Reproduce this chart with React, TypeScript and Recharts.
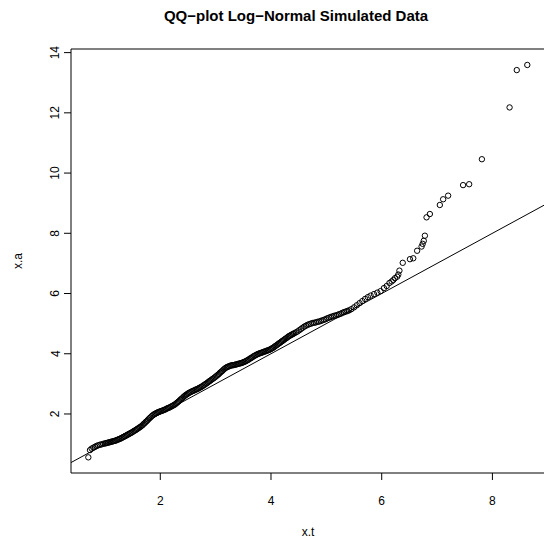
import React from "react";
import {
  ScatterChart,
  Scatter,
  XAxis,
  YAxis,
  ReferenceLine,
  ReferenceArea,
} from "recharts";

// Theoretical log-normal quantiles (x.t)
const xt = [
  0.70, 0.73, 0.76, 0.79, 0.82, 0.85, 0.88, 0.91, 0.94, 0.97,
  1.00, 1.02, 1.04, 1.06, 1.08, 1.10, 1.12, 1.14, 1.16, 1.18,
  1.20, 1.22, 1.24, 1.26, 1.28, 1.30, 1.32, 1.34, 1.36, 1.38,
  1.40, 1.42, 1.44, 1.46, 1.48, 1.50, 1.52, 1.54, 1.56, 1.58,
  1.60, 1.62, 1.64, 1.66, 1.68, 1.70, 1.72, 1.74, 1.76, 1.78,
  1.80, 1.82, 1.84, 1.86, 1.88, 1.90, 1.92, 1.94, 1.96, 1.98,
  2.00, 2.02, 2.04, 2.06, 2.08, 2.10, 2.12, 2.14, 2.16, 2.18,
  2.20, 2.22, 2.24, 2.26, 2.28, 2.30, 2.32, 2.34, 2.36, 2.38,
  2.40, 2.42, 2.44, 2.46, 2.48, 2.50, 2.52, 2.54, 2.56, 2.58,
  2.60, 2.62, 2.64, 2.66, 2.68, 2.70, 2.72, 2.74, 2.76, 2.78,
  2.80, 2.82, 2.84, 2.86, 2.88, 2.90, 2.92, 2.94, 2.96, 2.98,
  3.00, 3.02, 3.04, 3.06, 3.08, 3.10, 3.12, 3.14, 3.16, 3.18,
  3.20, 3.22, 3.24, 3.26, 3.28, 3.30, 3.32, 3.34, 3.36, 3.38,
  3.40, 3.42, 3.44, 3.46, 3.48, 3.50, 3.52, 3.54, 3.56, 3.58,
  3.60, 3.62, 3.64, 3.66, 3.68, 3.70, 3.72, 3.74, 3.76, 3.78,
  3.80, 3.82, 3.84, 3.86, 3.88, 3.90, 3.92, 3.94, 3.96, 3.98,
  4.00, 4.02, 4.04, 4.06, 4.08, 4.10, 4.12, 4.14, 4.16, 4.18,
  4.20, 4.22, 4.24, 4.26, 4.28, 4.30, 4.32, 4.34, 4.36, 4.38,
  4.40, 4.42, 4.45, 4.48, 4.51, 4.54, 4.57, 4.60, 4.63, 4.66,
  4.69, 4.72, 4.75, 4.78, 4.81, 4.84, 4.87, 4.90, 4.93, 4.96,
  4.99, 5.02, 5.05, 5.08, 5.11, 5.14, 5.17, 5.20, 5.23, 5.26,
  5.29, 5.32, 5.35, 5.38, 5.41, 5.45, 5.50, 5.55, 5.60, 5.65,
  5.70, 5.75, 5.80, 5.86, 5.92, 5.98, 6.04, 6.09, 6.14, 6.18,
  6.21, 6.24, 6.28, 6.30, 6.32, 6.38, 6.51, 6.57, 6.64, 6.72,
  6.74, 6.76, 6.78, 6.81, 6.87, 7.05, 7.11, 7.20, 7.47, 7.58,
  7.81, 8.31, 8.44, 8.63,
];

// Sorted simulated sample (x.a), paired with xt
const xa = [
  0.56, 0.80, 0.85, 0.88, 0.91, 0.94, 0.96, 0.98, 0.99, 1.01,
  1.02, 1.03, 1.04, 1.05, 1.06, 1.07, 1.08, 1.09, 1.10, 1.11,
  1.12, 1.14, 1.15, 1.17, 1.18, 1.20, 1.22, 1.24, 1.26, 1.28,
  1.30, 1.32, 1.34, 1.36, 1.38, 1.40, 1.43, 1.45, 1.47, 1.50,
  1.52, 1.55, 1.57, 1.60, 1.63, 1.67, 1.70, 1.74, 1.77, 1.81,
  1.85, 1.88, 1.92, 1.95, 1.98, 2.00, 2.02, 2.04, 2.06, 2.07,
  2.09, 2.10, 2.11, 2.13, 2.14, 2.16, 2.18, 2.20, 2.21, 2.23,
  2.25, 2.27, 2.29, 2.31, 2.34, 2.37, 2.40, 2.43, 2.47, 2.50,
  2.53, 2.57, 2.60, 2.63, 2.65, 2.68, 2.70, 2.72, 2.74, 2.76,
  2.77, 2.79, 2.81, 2.82, 2.84, 2.86, 2.88, 2.90, 2.92, 2.95,
  2.97, 3.00, 3.02, 3.05, 3.08, 3.10, 3.13, 3.16, 3.18, 3.21,
  3.24, 3.27, 3.30, 3.33, 3.37, 3.40, 3.43, 3.47, 3.50, 3.53,
  3.55, 3.57, 3.58, 3.60, 3.61, 3.62, 3.62, 3.63, 3.64, 3.65,
  3.66, 3.67, 3.68, 3.69, 3.70, 3.72, 3.73, 3.75, 3.77, 3.79,
  3.81, 3.84, 3.86, 3.88, 3.91, 3.93, 3.95, 3.97, 3.99, 4.00,
  4.02, 4.03, 4.04, 4.06, 4.07, 4.08, 4.10, 4.11, 4.12, 4.14,
  4.16, 4.18, 4.20, 4.23, 4.26, 4.28, 4.31, 4.34, 4.36, 4.39,
  4.42, 4.44, 4.47, 4.50, 4.52, 4.55, 4.58, 4.60, 4.62, 4.64,
  4.66, 4.68, 4.71, 4.74, 4.78, 4.82, 4.86, 4.90, 4.93, 4.96,
  4.98, 5.00, 5.02, 5.03, 5.04, 5.06, 5.07, 5.09, 5.11, 5.13,
  5.15, 5.18, 5.20, 5.22, 5.24, 5.26, 5.27, 5.29, 5.31, 5.33,
  5.36, 5.38, 5.40, 5.42, 5.44, 5.48, 5.54, 5.61, 5.68, 5.75,
  5.82, 5.88, 5.93, 5.98, 6.03, 6.08, 6.18, 6.25, 6.35, 6.40,
  6.45, 6.51, 6.56, 6.63, 6.76, 7.02, 7.14, 7.17, 7.42, 7.56,
  7.65, 7.75, 7.92, 8.53, 8.64, 8.94, 9.13, 9.25, 9.60, 9.63,
  10.46, 12.18, 13.42, 13.59,
];

const xTicks = [2, 4, 6, 8];
const yTicks = [2, 4, 6, 8, 10, 12, 14];
const xDomain: [number, number] = [0.387, 8.95];
const yDomain: [number, number] = [0.04, 14.12];

const points = xt.map((x, i) => ({ x, y: xa[i] }));

const FONT = "'Liberation Sans', Arial, Helvetica, sans-serif";

const OpenCircle = (p: any) => (
  <circle cx={p.cx} cy={p.cy} r={2.7} fill="none" stroke="#000" strokeWidth={1} />
);

const XTick = (p: any) => (
  <text x={p.x} y={504.5} textAnchor="middle" fontFamily={FONT} fontSize={12} fill="#000">
    {p.payload.value}
  </text>
);

const YTick = (p: any) => (
  <text
    x={59.5}
    y={p.y}
    textAnchor="middle"
    fontFamily={FONT}
    fontSize={12}
    fill="#000"
    transform={`rotate(-90, 59.5, ${p.y})`}
  >
    {p.payload.value}
  </text>
);

export default function App() {
  return (
    <div
      style={{
        position: "absolute",
        left: 0,
        top: 0,
        width: 544,
        height: 543,
        overflow: "hidden",
        background: "#fff",
      }}
    >
      <ScatterChart
        width={560}
        height={543}
        margin={{ top: 49, right: 15, bottom: 0, left: 0 }}
      >
        <XAxis
          type="number"
          dataKey="x"
          domain={xDomain}
          ticks={xTicks}
          allowDataOverflow
          axisLine={false}
          tickLine={{ stroke: "#000", strokeWidth: 1 }}
          tickSize={7}
          height={70}
          tick={<XTick />}
        />
        <YAxis
          type="number"
          dataKey="y"
          domain={yDomain}
          ticks={yTicks}
          allowDataOverflow
          axisLine={false}
          tickLine={{ stroke: "#000", strokeWidth: 1 }}
          tickSize={7}
          width={71}
          tick={<YTick />}
        />
        <ReferenceArea
          x1={xDomain[0]}
          x2={xDomain[1]}
          y1={yDomain[0]}
          y2={yDomain[1]}
          fill="none"
          stroke="#000"
          strokeWidth={1}
          ifOverflow="visible"
        />
        <ReferenceLine
          segment={[
            { x: xDomain[0], y: xDomain[0] },
            { x: xDomain[1], y: xDomain[1] },
          ]}
          stroke="#000"
          strokeWidth={1}
          ifOverflow="visible"
        />
        <Scatter data={points} shape={<OpenCircle />} isAnimationActive={false} />
      </ScatterChart>
      <svg
        width={544}
        height={543}
        style={{ position: "absolute", left: 0, top: 0, pointerEvents: "none" }}
      >
        <text x={296} y={20.5} textAnchor="middle" fontFamily={FONT} fontSize={15} fontWeight="bold" fill="#000">
          QQ−plot Log−Normal Simulated Data
        </text>
        <text x={308} y={536} textAnchor="middle" fontFamily={FONT} fontSize={12} fill="#000">
          x.t
        </text>
        <text
          x={22}
          y={261}
          textAnchor="middle"
          fontFamily={FONT}
          fontSize={12}
          fill="#000"
          transform="rotate(-90, 22, 261)"
        >
          x.a
        </text>
      </svg>
    </div>
  );
}
